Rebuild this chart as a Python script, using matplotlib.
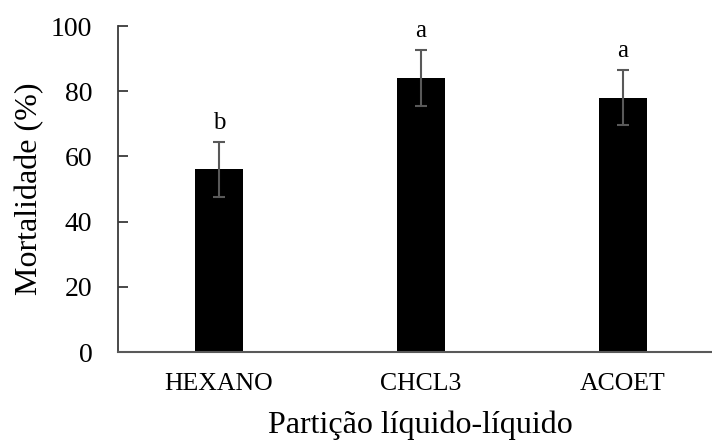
import matplotlib
matplotlib.use('Agg')
import matplotlib.pyplot as plt

# data
categories = ['HEXANO', 'CHCL3', 'ACOET']
mortalidade = [56, 84, 78]
erro = [8.5, 8.5, 8.5]
letras = ['b', 'a', 'a']

plt.rcParams['font.family'] = ['Liberation Serif', 'DejaVu Serif']

fig = plt.figure(figsize=(7.12, 4.4), dpi=100)
W, H = 712, 440
# axes box in pixels: left 118, bottom spine at 352, top (100) at 26
ax = fig.add_axes([118 / W, (H - 352) / H, (W - 118) / W, 326 / H])

x = range(len(categories))
ax.bar(x, mortalidade, width=0.24, color='black', zorder=2)
ax.errorbar(x, mortalidade, yerr=erro, fmt='none', ecolor='#595959',
            elinewidth=1.5, capsize=4.3, capthick=1.5, zorder=3)

# significance letters above error bars
for xi, m, e, l in zip(x, mortalidade, erro, letras):
    ax.text(xi, m + e + 4, l, ha='center', va='baseline', fontsize=18)

ax.set_xlim(-0.5, -0.5 + (W - 118) / 202)
ax.set_ylim(0, 100)
ax.set_yticks([0, 20, 40, 60, 80, 100])
ax.set_xticks(list(x))
ax.set_xticklabels(categories, fontsize=18.5)

ax.spines['top'].set_visible(False)
ax.spines['right'].set_visible(False)
ax.spines['left'].set_color('#3a3a3a')
ax.spines['bottom'].set_color('#595959')
ax.spines['left'].set_linewidth(1.3)
ax.spines['bottom'].set_linewidth(1.5)

ax.tick_params(axis='y', direction='in', length=7, width=1.3, color='#3a3a3a',
               labelsize=20, pad=18.5)
ax.tick_params(axis='x', length=0, pad=15)

ax.set_xlabel('Partição líquido-líquido', fontsize=23)
ax.xaxis.set_label_coords((420 - 118) / (W - 118), -(425 - 352) / 326)
ax.xaxis.label.set_va('center')
ax.set_ylabel('Mortalidade (%)', fontsize=23)
ax.yaxis.set_label_coords(-(118 - 30) / (W - 118), (352 - 189) / 326)
ax.yaxis.label.set_va('center')

fig.savefig('out.png', dpi=100)
